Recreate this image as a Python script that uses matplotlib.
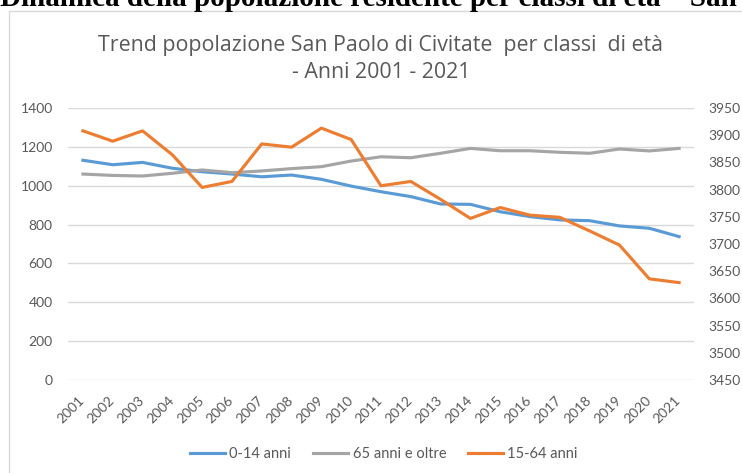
import matplotlib.pyplot as plt
from matplotlib.patches import Rectangle
import matplotlib.transforms as mtransforms

plt.rcParams['font.family'] = ['Lato', 'DejaVu Sans']

# Dati
anni = [str(a) for a in range(2001, 2022)]
giovani = [1131, 1108, 1120, 1090, 1072, 1060, 1046, 1055, 1033, 998, 969,
           944, 906, 904, 866, 841, 824, 820, 793, 781, 738]
anziani = [1060, 1053, 1050, 1064, 1081, 1067, 1076, 1088, 1098, 1127, 1149,
           1144, 1167, 1192, 1180, 1180, 1172, 1167, 1189, 1179, 1192]
attivi = [3908, 3889, 3908, 3864, 3804, 3815, 3884, 3878, 3913, 3892, 3807,
          3815, 3782, 3747, 3767, 3753, 3749, 3724, 3698, 3636, 3629]
left_ticks = [0, 200, 400, 600, 800, 1000, 1200, 1400]
right_ticks = [3450, 3500, 3550, 3600, 3650, 3700, 3750, 3800, 3850, 3900, 3950]

blu = '#5B9BD5'
grigio = '#A5A5A5'
arancio = '#ED7D31'
testo = '#595959'

W, H = 742, 473
fig = plt.figure(figsize=(W / 100, H / 100), dpi=100)

# cornice del grafico
fig.patches.append(Rectangle((9 / W, -0.1), 1.2, 1 - 11 / H + 0.1,
                             transform=fig.transFigure, fill=False,
                             edgecolor='#D9D9D9', linewidth=1))

# intestazione tagliata in alto (come nell'originale)
fig.text(0.0, 1 - 6 / H, 'Dinamica della popolazione residente per classi di età \u2013 San Paolo di Civitate',
         fontfamily='Liberation Serif', fontweight='bold', fontsize=21,
         ha='left', va='baseline', color='black')

ax = fig.add_axes([68 / W, 1 - 380 / H, (694 - 68) / W, (380 - 108) / H])
ax2 = ax.twinx()

x = list(range(len(anni)))
l1, = ax.plot(x, giovani, color=blu, lw=2.25, label='0-14 anni')
l2, = ax.plot(x, anziani, color=grigio, lw=2.25, label='65 anni e oltre')
l3, = ax2.plot(x, attivi, color=arancio, lw=2.25, label='15-64 anni')

ax.set_xlim(-0.5, len(anni) - 0.5)
ax.set_ylim(0, 1400)
ax.set_yticks(left_ticks)
ax2.set_ylim(3450, 3950)
ax2.set_yticks(right_ticks)
ax.grid(axis='y', color='#D9D9D9', lw=1)
ax.set_axisbelow(True)

for a in (ax, ax2):
    for s in a.spines.values():
        s.set_visible(False)
    a.tick_params(length=0, colors=testo, labelsize=10)
ax.tick_params(axis='y', pad=11)
ax2.tick_params(axis='y', pad=10)

ax.set_xticks(x)
ax.set_xticklabels(anni, rotation=45, ha='right')
ax.tick_params(axis='x', pad=10)
shift = mtransforms.ScaledTranslation(4 / 100, 0, fig.dpi_scale_trans)
for lab in ax.get_xticklabels():
    lab.set_transform(lab.get_transform() + shift)

fig.text(381 / W, 1 - 45 / H, 'Trend popolazione San Paolo di Civitate  per classi  di età',
         ha='center', va='center', fontsize=15.4, color=testo, fontfamily='Open Sans')
fig.text(381 / W, 1 - 72 / H, '- Anni 2001 - 2021',
         ha='center', va='center', fontsize=15.4, color=testo, fontfamily='Open Sans')

fig.legend(handles=[l1, l2, l3], loc='center', bbox_to_anchor=(384 / W, 1 - 454 / H),
           ncol=3, frameon=False, fontsize=10.5, labelcolor=testo,
           handlelength=2.4, handletextpad=0.3, columnspacing=1.5)

fig.savefig('out.png', dpi=100)
